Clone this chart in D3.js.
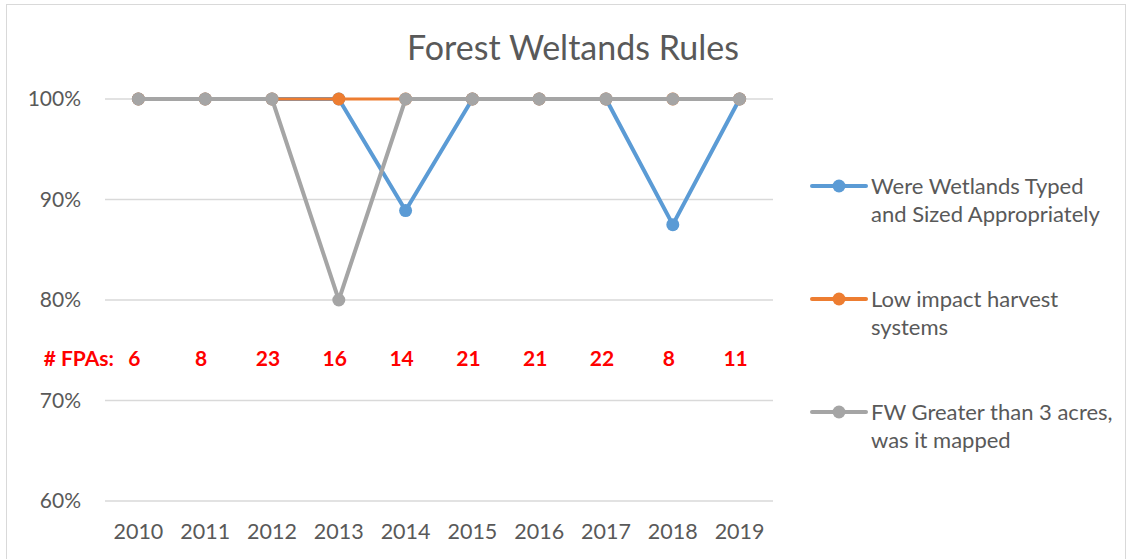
<!DOCTYPE html>
<html>
<head>
<meta charset="utf-8">
<script src="https://cdn.jsdelivr.net/npm/d3@7"></script>
<style>
  body { margin: 0; background: #fff; }
  svg { font-family: Lato, "Open Sans", sans-serif; }
</style>
</head>
<body>
<div id="chart"></div>
<script>
const years = ["2010","2011","2012","2013","2014","2015","2016","2017","2018","2019"];
const typedSized = [1, 1, 1, 1, 0.889, 1, 1, 1, 0.875, 1];
const lowImpact = [1, 1, 1, 1, 1, 1, 1, 1, 1, 1];
const fwMapped = [1, 1, 1, 0.8, 1, 1, 1, 1, 1, 1];
const fpaCounts = [6, 8, 23, 16, 14, 21, 21, 22, 8, 11];
const yTicks = [0.6, 0.7, 0.8, 0.9, 1.0];

const series = [
  {name: ["Were Wetlands Typed", "and Sized Appropriately"], values: typedSized, color: "#5b9bd5", width: 4},
  {name: ["Low impact harvest", "systems"], values: lowImpact, color: "#ed7d31", width: 3},
  {name: ["FW Greater than 3 acres,", "was it mapped"], values: fwMapped, color: "#a5a5a5", width: 4}
];

const W = 1129, H = 559;
const svg = d3.select("#chart").append("svg")
  .attr("width", W)
  .attr("height", H);

svg.append("rect")
  .attr("x", 6.5).attr("y", 4.5)
  .attr("width", 1119).attr("height", 560)
  .attr("fill", "#fff")
  .attr("stroke", "#d9d9d9");

const x = d3.scaleBand().domain(years).range([105, 773]);
const y = d3.scaleLinear().domain([0.6, 1.0]).range([501, 99]);

// gridlines
svg.selectAll(".grid")
  .data(yTicks)
  .enter().append("line")
  .attr("class", "grid")
  .attr("x1", 105).attr("x2", 773)
  .attr("y1", d => y(d)).attr("y2", d => y(d))
  .attr("stroke", "#d9d9d9")
  .attr("stroke-width", 1.3);

// y axis labels
svg.selectAll(".ylab")
  .data(yTicks)
  .enter().append("text")
  .attr("class", "ylab")
  .attr("x", 81)
  .attr("y", d => y(d))
  .attr("dy", "0.35em")
  .attr("text-anchor", "end")
  .attr("font-size", 21)
  .attr("fill", "#595959")
  .text(d3.format(".0%"));

// x axis labels
svg.selectAll(".xlab")
  .data(years)
  .enter().append("text")
  .attr("class", "xlab")
  .attr("x", d => x(d) + x.bandwidth() / 2)
  .attr("y", 531)
  .attr("dy", "0.35em")
  .attr("text-anchor", "middle")
  .attr("font-size", 21.5)
  .attr("fill", "#595959")
  .text(d => d);

// title
svg.append("text")
  .attr("x", 573).attr("y", 48)
  .attr("dy", "0.35em")
  .attr("text-anchor", "middle")
  .attr("font-size", 34)
  .attr("fill", "#595959")
  .text("Forest Weltands Rules");

// FPA counts row
svg.append("text")
  .attr("x", 114).attr("y", 359)
  .attr("dy", "0.35em")
  .attr("text-anchor", "end")
  .attr("font-size", 21)
  .attr("font-weight", "bold")
  .attr("fill", "#ff0000")
  .text("# FPAs:");

svg.selectAll(".fpa")
  .data(fpaCounts)
  .enter().append("text")
  .attr("class", "fpa")
  .attr("x", (d, i) => x(years[i]) + x.bandwidth() / 2 - 4)
  .attr("y", 359)
  .attr("dy", "0.35em")
  .attr("text-anchor", "middle")
  .attr("font-size", 21)
  .attr("font-weight", "bold")
  .attr("fill", "#ff0000")
  .text(d => d);

// lines and markers
const line = d3.line()
  .x((d, i) => x(years[i]) + x.bandwidth() / 2)
  .y(d => y(d));

series.forEach(s => {
  svg.append("path")
    .datum(s.values)
    .attr("d", line)
    .attr("fill", "none")
    .attr("stroke", s.color)
    .attr("stroke-width", s.width)
    .attr("stroke-linejoin", "round");
  svg.selectAll(null)
    .data(s.values)
    .enter().append("circle")
    .attr("cx", (d, i) => x(years[i]) + x.bandwidth() / 2)
    .attr("cy", d => y(d))
    .attr("r", 6.5)
    .attr("fill", s.color);
});

// legend
const legend = svg.selectAll(".legend")
  .data(series)
  .enter().append("g")
  .attr("class", "legend")
  .attr("transform", (d, i) => "translate(812," + (186 + i * 113) + ")");

legend.append("line")
  .attr("x1", 0).attr("x2", 54)
  .attr("stroke", d => d.color)
  .attr("stroke-width", 4)
  .attr("stroke-linecap", "round");

legend.append("circle")
  .attr("cx", 27).attr("r", 6.5)
  .attr("fill", d => d.color);

legend.append("text")
  .attr("x", 59)
  .attr("font-size", 22)
  .attr("fill", "#595959")
  .selectAll("tspan")
  .data(d => d.name)
  .enter().append("tspan")
  .attr("x", 59)
  .attr("y", (d, i) => i * 28)
  .attr("dy", "0.35em")
  .text(d => d);
</script>
</body>
</html>
